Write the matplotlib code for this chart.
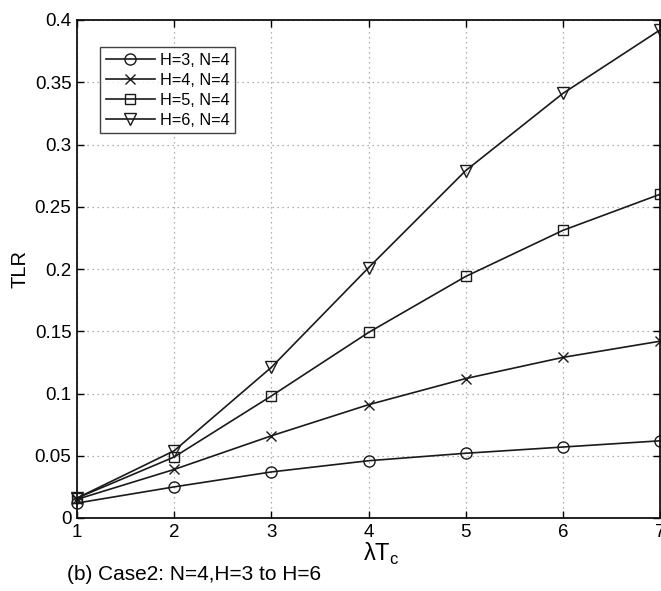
import matplotlib
matplotlib.use("Agg")
import matplotlib.pyplot as plt

plt.rcParams['font.family'] = ['Liberation Sans', 'DejaVu Sans']
plt.rcParams['mathtext.fontset'] = 'custom'
plt.rcParams['mathtext.rm'] = 'Liberation Sans'

x = [1, 2, 3, 4, 5, 6, 7]
h3 = [0.012, 0.025, 0.037, 0.046, 0.052, 0.057, 0.062]
h4 = [0.015, 0.039, 0.066, 0.091, 0.112, 0.129, 0.142]
h5 = [0.016, 0.049, 0.098, 0.149, 0.194, 0.231, 0.260]
h6 = [0.016, 0.054, 0.121, 0.201, 0.279, 0.341, 0.392]
labels = ['H=3, N=4', 'H=4, N=4', 'H=5, N=4', 'H=6, N=4']
markers = ['o', 'x', 's', 'v']
yticks = [0, 0.05, 0.1, 0.15, 0.2, 0.25, 0.3, 0.35, 0.4]
ytick_labels = ['0', '0.05', '0.1', '0.15', '0.2', '0.25', '0.3', '0.35', '0.4']

fig = plt.figure(figsize=(6.61, 5.91), dpi=100)
ax = fig.add_axes([77/661, 1-518/591, (660-77)/661, (518-20)/591])
col = '#1a1a1a'
sizes = {'o': 8, 'x': 7, 's': 7, 'v': 8.5}
for ys, lab, m in zip([h3, h4, h5, h6], labels, markers):
    ax.plot(x, ys, color=col, lw=1.2, marker=m, ms=sizes[m],
            mfc='none', mec=col, mew=1.0, label=lab, clip_on=False)

ax.set_xlim(1, 7)
ax.set_ylim(0, 0.4)
ax.set_xticks(x)
ax.set_yticks(yticks)
ax.set_yticklabels(ytick_labels)
ax.tick_params(direction='in', top=True, right=True, labelsize=13.5, length=5, width=1, pad=4)
ax.grid(True, linestyle=(0, (1, 3)), color='#999999', lw=0.9)
for s in ax.spines.values():
    s.set_linewidth(1.3)
    s.set_color('#111111')

ax.set_ylabel('TLR', fontsize=14.5, labelpad=4)
ax.set_xlabel('λT$_\\mathrm{c}$', fontsize=17, labelpad=2)
ax.xaxis.set_label_coords((381 - 77) / 583, -0.045, transform=ax.transAxes)
ax.xaxis.label.set_va('top')

leg = ax.legend(loc='upper left', bbox_to_anchor=(0.04, 0.945), fontsize=11.7,
                frameon=True, fancybox=False, edgecolor='#111111',
                borderpad=0.35, labelspacing=0.3, handlelength=3.0, handletextpad=0.3,
                borderaxespad=0)
leg.get_frame().set_linewidth(1.0)

fig.text(67/661, 1-575/591, '(b) Case2: N=4,H=3 to H=6', fontsize=15,
         ha='left', va='center')

fig.savefig('out.png', dpi=100)
